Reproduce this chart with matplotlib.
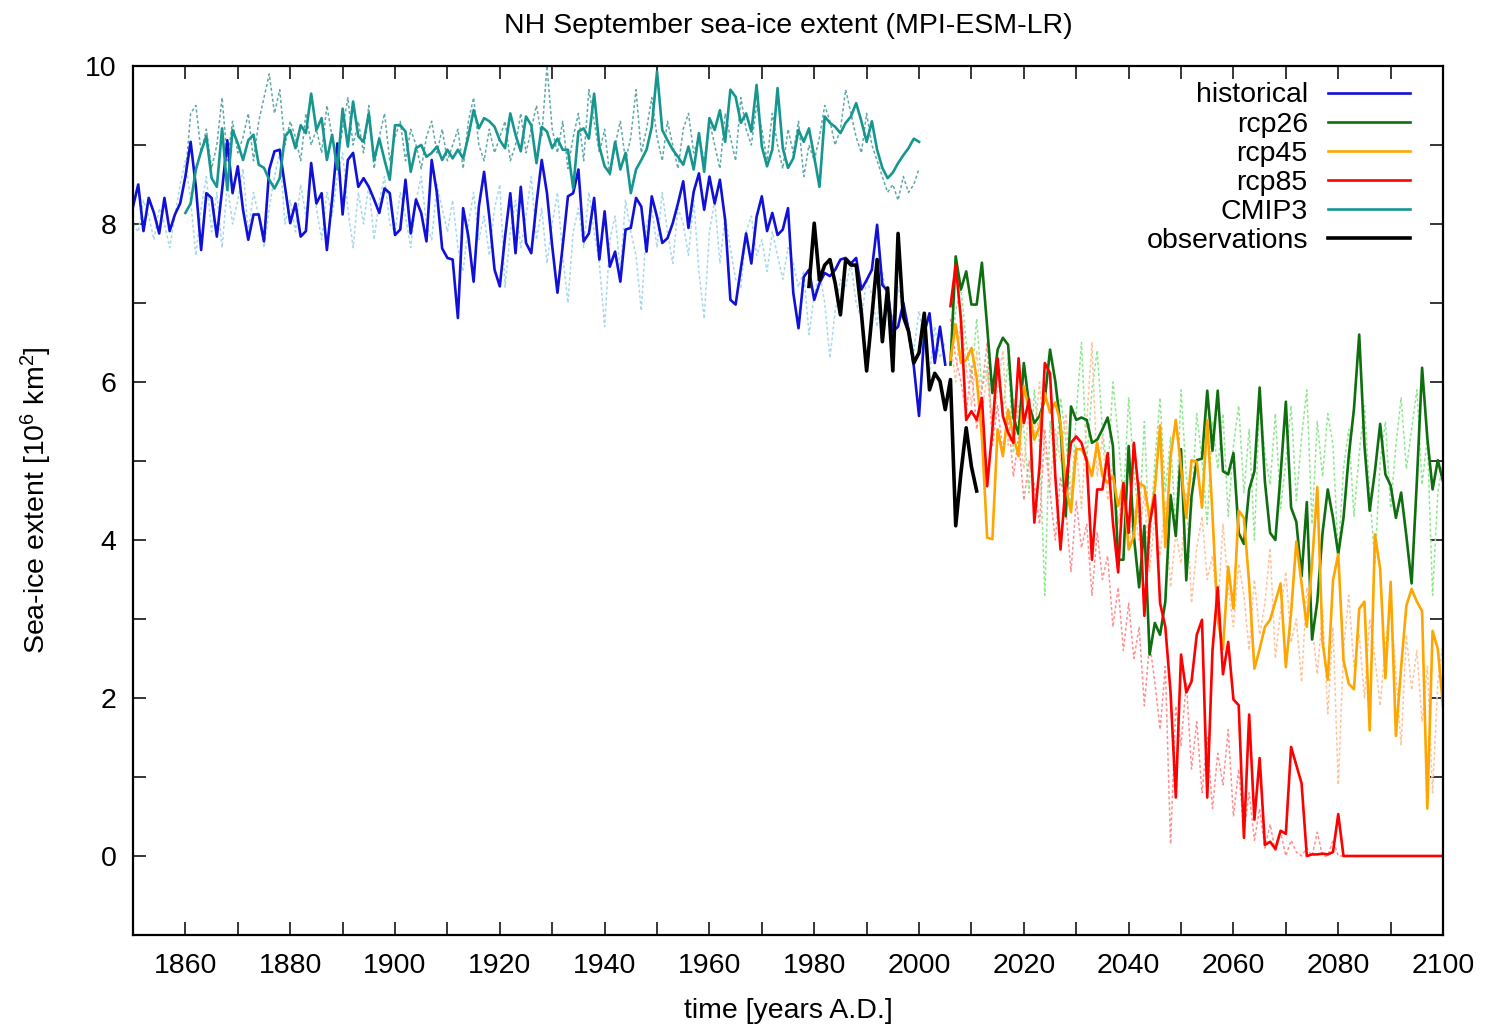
import numpy as np
import matplotlib
matplotlib.use('Agg')
import matplotlib.pyplot as plt

plt.rcParams['font.family'] = ['Liberation Sans', 'DejaVu Sans']
plt.rcParams['mathtext.fontset'] = 'custom'
plt.rcParams['mathtext.rm'] = 'Liberation Sans'

## data (10^6 km^2)
hist_start = 1850
historical = [
    8.22, 8.50, 7.91, 8.33, 8.14, 7.88, 8.33, 7.91, 8.12, 8.26,
    8.60, 9.04, 8.47, 7.67, 8.39, 8.33, 7.84, 8.43, 9.06, 8.39,
    8.73, 8.18, 7.80, 8.12, 8.12, 7.78, 8.69, 8.92, 8.94, 8.47,
    8.01, 8.26, 7.84, 7.91, 8.77, 8.26, 8.39, 7.67, 8.31, 9.02,
    8.12, 8.81, 8.90, 8.47, 8.58, 8.47, 8.31, 8.14, 8.45, 8.39,
    7.86, 7.93, 8.56, 7.88, 8.31, 8.14, 7.78, 8.81, 8.39, 7.69,
    7.57, 7.55, 6.81, 8.20, 7.84, 7.27, 8.22, 8.66, 8.09, 7.42,
    7.21, 7.84, 8.39, 7.63, 8.47, 7.76, 7.63, 8.26, 8.81, 8.39,
    7.72, 7.13, 7.72, 8.35, 8.39, 8.69, 7.78, 7.88, 8.33, 7.55,
    8.16, 7.46, 7.65, 7.27, 7.93, 7.95, 8.33, 8.22, 7.65, 8.35,
    8.09, 7.76, 7.82, 8.01, 8.26, 8.54, 7.95, 8.41, 8.64, 8.18,
    8.60, 8.26, 8.56, 8.05, 7.04, 6.98, 7.44, 7.88, 7.50, 8.09,
    8.35, 7.91, 8.14, 7.86, 7.93, 8.20, 7.13, 6.68, 7.33, 7.42,
    7.04, 7.25, 7.38, 7.34, 7.42, 7.55, 7.57, 7.50, 7.57, 7.17,
    7.29, 7.42, 7.99, 7.23, 7.15, 6.64, 6.70, 7.00, 6.66, 6.20,
    5.57, 6.62, 6.87, 6.24, 6.70, 6.22]
historical_member = [
    8.0, 7.9, 8.3, 8.1, 7.8, 8.2, 8.0, 7.7, 8.1, 8.5,
    8.8, 8.3, 7.6, 8.2, 8.6, 7.9, 8.4, 7.7, 8.5, 8.0,
    8.3, 8.7, 7.9, 8.4, 8.1, 7.7, 8.2, 8.6, 8.9, 8.0,
    8.3, 7.9, 8.5, 8.1, 8.8, 8.2, 7.8, 8.4, 8.1, 8.6,
    8.9, 8.2, 7.7, 8.4, 8.0, 8.5, 7.8, 8.3, 8.6, 8.0,
    7.9, 8.4, 8.1, 7.7, 8.3, 8.6, 8.0, 7.8, 8.5, 8.2,
    7.9, 8.3, 7.7, 7.4, 8.0, 8.4, 7.8, 8.1, 7.6, 8.2,
    8.5, 7.2, 7.9, 8.3, 7.7, 8.1, 8.6, 7.8, 8.2, 7.5,
    8.0, 8.4, 7.6, 7.0, 7.9, 8.2, 7.7, 8.4, 7.9, 7.5,
    6.7, 7.8, 8.1, 7.4, 8.3, 7.9, 7.6, 6.9, 8.0, 8.2,
    7.7, 8.4, 7.9, 7.5, 8.2, 8.0, 7.6, 8.3, 7.4, 6.8,
    7.9, 8.3, 7.5, 8.1, 7.7, 7.3, 7.2, 7.9, 8.1, 7.6,
    7.8, 7.4, 7.9, 7.6, 7.3, 7.7, 7.5, 7.2, 7.4, 6.6,
    7.1, 7.4, 7.0, 6.3, 6.9, 7.3, 7.2, 7.5, 7.0, 6.8,
    7.3, 7.1, 6.7, 7.4, 7.0, 6.8, 7.2, 6.9, 6.6, 6.4,
    6.9, 6.5, 6.1, 6.7, 6.3, 6.5]

cmip3_start = 1860
cmip3 = [
    8.14, 8.26, 8.69, 8.92, 9.11, 8.58, 8.47, 9.21, 8.43, 9.19,
    9.02, 8.81, 9.06, 9.13, 8.75, 8.71, 8.56, 8.45, 8.58, 9.11,
    9.19, 8.96, 9.25, 9.15, 9.65, 9.19, 9.34, 8.81, 9.13, 8.69,
    9.46, 8.98, 9.55, 9.11, 9.04, 9.40, 8.81, 9.08, 8.81, 8.56,
    9.25, 9.25, 9.17, 8.66, 8.96, 9.00, 8.85, 8.90, 8.98, 8.81,
    8.94, 8.83, 8.94, 8.83, 9.11, 9.44, 9.21, 9.34, 9.30, 9.23,
    9.06, 8.96, 9.40, 9.13, 8.92, 9.36, 9.25, 8.77, 9.23, 9.17,
    8.96, 9.08, 8.94, 8.94, 8.45, 9.17, 9.21, 9.08, 9.65, 8.98,
    8.73, 8.64, 9.04, 8.69, 8.90, 8.39, 8.69, 8.81, 8.94, 9.23,
    9.93, 9.19, 9.06, 8.94, 8.85, 8.75, 8.98, 8.69, 9.15, 8.66,
    9.34, 9.19, 9.44, 9.04, 9.70, 9.61, 9.28, 9.40, 9.17, 9.76,
    8.98, 8.73, 8.94, 9.72, 8.96, 8.71, 8.83, 9.19, 9.04, 9.21,
    8.85, 8.47, 9.36, 9.28, 9.23, 9.15, 9.28, 9.36, 9.53, 9.30,
    9.04, 9.30, 8.94, 8.71, 8.58, 8.65, 8.77, 8.87, 8.96, 9.08,
    9.04]
cmip3_member = [
    8.6, 9.4, 9.5, 8.9, 9.2, 8.7, 9.0, 9.6, 8.8, 9.3,
    8.9, 9.1, 9.4, 8.8, 9.3, 9.6, 9.9, 9.4, 9.7, 9.0,
    9.3, 9.1, 8.8, 9.4, 9.0, 9.2, 8.9, 9.5, 9.1, 8.8,
    9.2, 9.6, 9.0, 9.3, 8.9, 9.5, 8.7, 9.1, 9.4, 8.8,
    9.1, 9.3, 8.8, 9.2, 9.0, 8.7, 9.1, 9.3, 8.9, 9.2,
    8.8, 9.0, 9.2, 8.7, 9.3, 9.6, 9.0, 8.8, 9.2, 8.9,
    9.1, 9.3, 8.8, 9.0, 9.4, 8.9, 9.2, 9.5, 9.1, 10.0,
    9.2, 8.9, 9.3, 8.7, 9.1, 9.4, 8.8, 9.7, 9.3, 8.9,
    9.2, 8.6, 9.0, 9.3, 8.8, 9.1, 9.7, 8.9, 9.2, 9.6,
    9.1, 8.8, 9.3, 9.0, 8.7, 9.2, 9.4, 8.9, 9.1, 8.8,
    9.3, 9.0, 8.7, 9.4, 9.1, 8.8, 9.6, 9.2, 9.0, 9.5,
    9.2, 8.8, 9.4, 9.0, 8.7, 9.2, 8.9, 9.3, 8.6, 9.0,
    8.8, 9.1, 9.5, 9.3, 9.0, 9.2, 9.7, 9.4, 9.1, 8.9,
    9.4, 9.0, 8.8, 8.6, 8.4, 8.5, 8.3, 8.6, 8.4, 8.5,
    8.7]

obs_start = 1979
observations = [
    7.21, 8.01, 7.29, 7.48, 7.55, 7.25, 6.85, 7.55, 7.48, 7.48,
    6.87, 6.14, 6.83, 7.55, 6.51, 7.19, 6.14, 7.88, 6.83, 6.64,
    6.24, 6.37, 6.87, 5.90, 6.11, 6.01, 5.65, 6.03, 4.18, 4.85,
    5.42, 4.93, 4.62]

rcp_start = 2006
rcp26 = [
    6.22, 7.59, 7.17, 7.40, 6.98, 6.98, 7.51, 6.70, 5.86, 6.41,
    6.56, 6.47, 5.55, 5.34, 6.24, 5.71, 5.48, 5.57, 5.78, 6.41,
    6.01, 5.44, 4.30, 5.69, 5.52, 5.55, 5.52, 5.23, 5.27, 5.40,
    5.55, 5.19, 3.75, 3.75, 5.19, 4.05, 3.40, 4.18, 2.55, 2.95,
    2.80, 3.22, 4.57, 4.05, 5.15, 3.49, 4.55, 5.01, 5.03, 5.89,
    5.13, 5.89, 4.87, 4.83, 5.10, 4.09, 3.95, 4.64, 4.87, 5.93,
    4.74, 4.09, 4.00, 4.83, 5.75, 4.41, 4.23, 3.54, 4.48, 2.74,
    3.22, 4.09, 4.64, 4.28, 3.82, 4.28, 5.06, 5.66, 6.60, 5.20,
    4.37, 4.87, 5.47, 4.83, 4.69, 4.28, 4.60, 4.05, 3.45, 4.74,
    6.18, 5.29, 4.64, 5.01, 4.74]
rcp45 = [
    6.28, 6.73, 6.24, 6.28, 6.43, 6.05, 5.31, 4.03, 4.01, 5.40,
    5.06, 5.65, 5.31, 5.06, 5.95, 5.65, 5.27, 5.44, 5.86, 5.61,
    5.74, 5.48, 4.68, 4.35, 5.15, 5.15, 5.02, 4.81, 5.23, 4.81,
    4.72, 4.81, 4.43, 4.72, 3.88, 4.05, 4.72, 4.68, 4.27, 4.64,
    5.45, 3.91, 5.06, 5.52, 4.92, 4.28, 5.01, 4.99, 4.41, 5.52,
    4.32, 2.99, 2.62, 3.66, 3.13, 4.37, 4.28, 3.45, 2.37, 2.62,
    2.90, 2.99, 3.22, 3.45, 2.39, 3.08, 3.98, 3.45, 2.90, 3.70,
    4.67, 2.71, 2.23, 3.49, 3.82, 2.48, 2.18, 2.11, 3.13, 3.22,
    1.59, 4.07, 3.63, 2.25, 3.47, 1.52, 2.39, 3.17, 3.38, 3.22,
    3.10, 0.60, 2.85, 2.62, 1.89]
rcp85 = [
    6.96, 7.48, 6.79, 5.52, 5.63, 5.52, 5.80, 4.68, 5.40, 6.30,
    5.57, 5.36, 5.23, 6.30, 5.48, 5.78, 4.22, 4.93, 6.24, 6.11,
    4.81, 3.88, 4.72, 5.23, 5.31, 5.23, 5.00, 3.75, 4.64, 4.64,
    5.10, 4.22, 3.59, 4.72, 4.09, 5.23, 4.55, 3.04, 4.20, 4.57,
    3.20, 2.90, 2.07, 0.74, 2.55, 2.07, 2.21, 2.80, 2.99, 0.74,
    2.60, 3.40, 2.30, 2.71, 1.98, 1.91, 0.23, 1.79, 0.46, 1.24,
    0.14, 0.18, 0.09, 0.32, 0.28, 1.38, 1.15, 0.92, 0.00, 0.02,
    0.02, 0.03, 0.02, 0.05, 0.53, 0.00, 0.00, 0.00, 0.00, 0.00,
    0.00, 0.00, 0.00, 0.00, 0.00, 0.00, 0.00, 0.00, 0.00, 0.00,
    0.00, 0.00, 0.00, 0.00, 0.00]
rcp26_member = [
    6.3, 6.9, 7.2, 6.5, 6.0, 6.8, 5.9, 6.2, 5.5, 6.1,
    5.6, 6.3, 5.1, 5.7, 5.4, 4.6, 5.9, 5.2, 3.3, 5.5,
    4.9, 5.8, 5.3, 4.4, 5.6, 6.5, 5.0, 5.9, 6.4, 5.4,
    4.8, 6.0, 5.3, 4.5, 5.8, 4.9, 4.2, 5.5, 3.9, 5.0,
    5.8, 4.6, 5.3, 4.1, 5.9, 4.8, 4.4, 5.6, 5.0, 4.2,
    5.5, 4.9, 5.6, 4.3, 5.2, 5.7, 4.6, 5.4, 4.0, 5.8,
    5.1, 4.7, 5.6, 4.4, 5.0, 5.7, 4.5, 5.3, 5.9, 4.2,
    5.5, 4.8, 5.6, 5.2, 3.8, 4.9, 5.4, 4.3, 5.1, 5.7,
    4.6, 3.7, 5.0, 5.5, 4.4, 5.2, 5.8, 4.9, 5.4, 5.9,
    4.7, 5.3, 3.3, 4.6, 5.0]
rcp45_member = [
    6.5, 6.0, 6.9, 6.2, 5.7, 6.4, 5.6, 6.1, 5.3, 5.9,
    6.4, 5.2, 5.8, 5.5, 4.9, 5.7, 5.3, 6.0, 5.1, 4.7,
    5.4, 5.0, 5.6, 4.6, 5.2, 4.4, 5.5, 6.5, 4.8, 5.3,
    4.5, 5.0, 4.2, 4.7, 3.9, 4.4, 4.0, 4.6, 3.6, 4.3,
    3.8, 4.5, 3.4, 4.1, 3.7, 4.6, 3.2, 3.9, 4.3, 3.5,
    3.8, 3.1, 4.2, 3.4, 2.9, 3.7, 3.3, 2.6, 3.5, 2.8,
    3.2, 3.9, 2.5, 3.1, 3.6, 2.7, 3.0, 2.2, 3.4, 2.9,
    2.3, 3.1, 1.8, 2.9, 0.9, 2.6, 3.3, 2.4, 2.8, 2.0,
    3.0, 2.5, 1.9, 2.7, 3.2, 2.3, 1.4, 2.8, 2.1, 2.6,
    1.7, 2.4, 0.8, 2.2, 2.7]
rcp85_member = [
    6.8, 6.3, 6.0, 5.6, 6.2, 5.4, 5.9, 6.5, 5.2, 5.7,
    5.1, 5.6, 4.8, 5.3, 4.5, 5.0, 4.7, 4.2, 5.4, 4.6,
    4.0, 4.8, 4.4, 3.6, 4.5, 3.9, 4.2, 3.3, 4.1, 3.5,
    3.8, 2.9, 3.4, 2.6, 3.2, 2.5, 2.9, 1.9, 2.7, 2.2,
    1.6, 2.4, 0.15, 1.9, 1.4, 2.2, 1.1, 1.7, 0.8, 1.5,
    0.6, 1.3, 0.9, 1.6, 0.5, 1.1, 0.3, 0.8, 0.2, 0.6,
    0.1, 0.4, 0.05, 0.3, 0.0, 0.2, 0.05, 0.0, 0.1, 0.0,
    0.3, 0.0, 0.0, 0.2, 0.0, 0.0, 0.0, 0.0, 0.0, 0.0,
    0.0, 0.0, 0.0, 0.0, 0.0, 0.0, 0.0, 0.0, 0.0, 0.0,
    0.0, 0.0, 0.0, 0.0, 0.0]


def yrs(start, vals):
    return np.arange(start, start + len(vals))


fig = plt.figure(figsize=(14.86, 10.26), dpi=100)
ax = fig.add_axes([0.0895, 0.0887, 0.8816, 0.847])

dot = (0, (2.0, 1.6))
## ensemble members, thin dotted
ax.plot(yrs(hist_start, historical_member), historical_member, color='#a6d9ea', lw=1.1, ls=dot)
ax.plot(yrs(cmip3_start, cmip3_member), cmip3_member, color='#5ea9a6', lw=1.1, ls=dot)
ax.plot(yrs(rcp_start, rcp26_member), rcp26_member, color='#8fe88f', lw=1.1, ls=dot)
ax.plot(yrs(rcp_start, rcp45_member), rcp45_member, color='#ffc39a', lw=1.1, ls=dot)
ax.plot(yrs(rcp_start, rcp85_member), rcp85_member, color='#ff9090', lw=1.1, ls=dot)

## main runs
ax.plot(yrs(hist_start, historical), historical, color='#1010d8', lw=1.9, label='historical')
ax.plot(yrs(rcp_start, rcp26), rcp26, color='#0f6e0f', lw=1.9, label='rcp26')
ax.plot(yrs(rcp_start, rcp45), rcp45, color='#ffa500', lw=1.9, label='rcp45')
ax.plot(yrs(rcp_start, rcp85), rcp85, color='#ff0000', lw=1.9, label='rcp85')
ax.plot(yrs(cmip3_start, cmip3), cmip3, color='#17968f', lw=1.9, label='CMIP3')
ax.plot(yrs(obs_start, observations), observations, color='black', lw=2.6, label='observations')

ax.set_xlim(1850, 2100)
ax.set_ylim(-1, 10)
xt = list(range(1850, 2101, 10))
ax.set_xticks(xt)
ax.set_xticklabels([str(t) if t % 20 == 0 else '' for t in xt])
yt = list(range(-1, 11))
ax.set_yticks(yt)
ax.set_yticklabels([str(t) if t % 2 == 0 else '' for t in yt])
ax.tick_params(direction='in', length=9.5, width=1.1, top=True, right=True, labelsize=20.5)
ax.tick_params(axis='x', pad=13)
ax.tick_params(axis='y', pad=12)
for s in ax.spines.values():
    s.set_linewidth(1.6)

ax.set_title('NH September sea-ice extent (MPI-ESM-LR)', fontsize=20.5, pad=24)
ax.set_xlabel('time [years A.D.]', fontsize=20.5, labelpad=14)
ax.set_ylabel(r'Sea-ice extent [10$\mathregular{^6}$ km$\mathregular{^2}$]', fontsize=20.5, labelpad=22)

ax.legend(loc='upper right', bbox_to_anchor=(0.975, 0.981), frameon=False, markerfirst=False,
          fontsize=20.5, handlelength=2.9, handletextpad=0.7, labelspacing=0.11,
          borderpad=0, borderaxespad=0)

fig.savefig('out.png', dpi=100)
